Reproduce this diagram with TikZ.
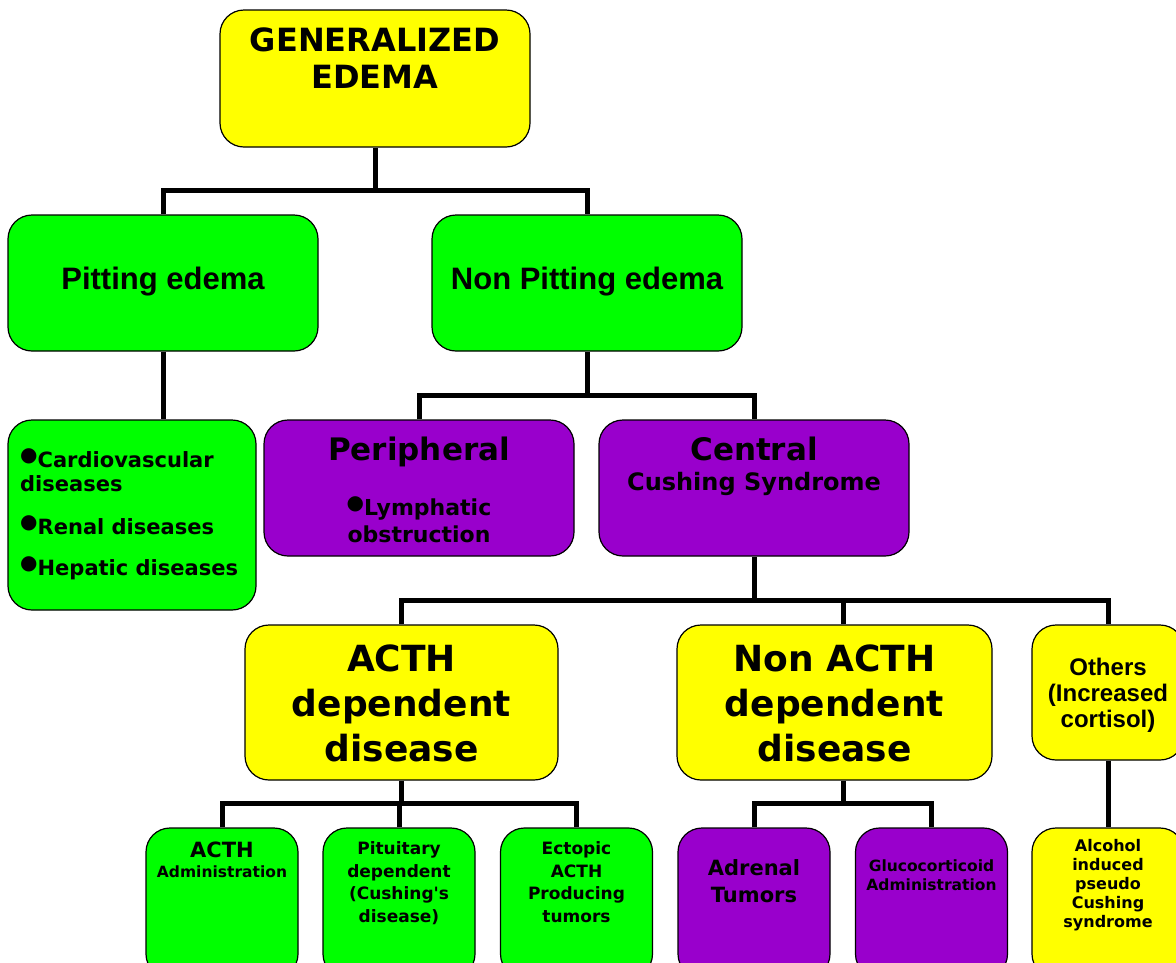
\documentclass[tikz,border=0pt]{standalone}
\usepackage{fontspec}
\setmainfont{DejaVu Sans}
\newfontfamily\arialf{Liberation Sans}
\usetikzlibrary{positioning}
\definecolor{yelbox}{RGB}{255,255,0}
\definecolor{grnbox}{RGB}{0,255,0}
\definecolor{purbox}{RGB}{153,0,204}
\newcommand{\fs}[2]{\fontsize{#1}{#2}\selectfont}
\newcommand{\bul}{\raisebox{6pt}{\fs{20}{20}●}}

\begin{document}
\begin{tikzpicture}[x=1pt,y=-1pt,
  box/.style={draw=black,line width=1.2pt,rounded corners=24pt,fill=#1,inner sep=0pt},
  conn/.style={line width=5pt},
  txt/.style 2 args={anchor=north,inner sep=0pt,align=center,font=\bfseries\fs{#1}{#2}},
  atxt/.style 2 args={anchor=north,inner sep=0pt,align=center,font=\arialf\bfseries\fs{#1}{#2}}]
\useasboundingbox (0,0) rectangle (1176,962);

\node[box=yelbox,minimum width=310pt,minimum height=137pt] (root) at (375,78.5) {};
\node[box=grnbox,minimum width=310pt,minimum height=136pt] (pit) at (163,283) {};
\node[box=grnbox,minimum width=310pt,minimum height=136pt] (np) at (587,283) {};
\node[box=grnbox,minimum width=248pt,minimum height=190pt] (card) at (132,515) {};
\node[box=purbox,minimum width=310pt,minimum height=136pt] (peri) at (419,488) {};
\node[box=purbox,minimum width=310pt,minimum height=136pt] (cent) at (754,488) {};
\node[box=yelbox,minimum width=313pt,minimum height=155pt] (acth) at (401.5,702.5) {};
\node[box=yelbox,minimum width=315pt,minimum height=155pt] (nacth) at (834.5,702.5) {};
\node[box=yelbox,minimum width=152pt,minimum height=135pt] (oth) at (1108,692.5) {};
\node[box=grnbox,minimum width=152pt,minimum height=150pt] (adm) at (222,903) {};
\node[box=grnbox,minimum width=152pt,minimum height=150pt] (pitu) at (399,903) {};
\node[box=grnbox,minimum width=152pt,minimum height=150pt] (ecto) at (576.5,903) {};
\node[box=purbox,minimum width=152pt,minimum height=150pt] (adre) at (754,903) {};
\node[box=purbox,minimum width=152pt,minimum height=150pt] (gluc) at (931.5,903) {};
\node[box=yelbox,minimum width=152pt,minimum height=150pt] (alco) at (1108,903) {};

\node[txt={32}{37},below=18pt of root.north] (rootT) {GENERALIZED\\EDEMA};
\node[atxt={31}{35},below=52pt of pit.north] (pitT) {Pitting edema};
\node[atxt={31}{35},below=52pt of np.north] (npT) {Non Pitting edema};
\node[txt={21}{24},align=left,anchor=north west] (cardT) at (20,448)
  {\bul Cardiovascular\\diseases\\[19pt]\bul Renal diseases\\[17pt]\bul Hepatic diseases};
\node[txt={31}{27},below=17pt of peri.north] (periT)
  {Peripheral\\[28pt]{\fs{22}{27}\bul Lymphatic}\\{\fs{22}{27}obstruction}};
\node[txt={31}{30},below=17pt of cent.north] (centT) {Central\\{\fs{24}{28}Cushing Syndrome}};
\node[txt={36}{45},below=20pt of acth.north] (acthT) {ACTH\\dependent\\disease};
\node[txt={36}{45},below=20pt of nacth.north] (nacthT) {Non ACTH\\dependent\\disease};
\node[atxt={24}{26},below=33pt of oth.north] (othT) {Others\\(Increased\\cortisol)};
\node[txt={21}{20},below=14pt of adm.north] (admT) {ACTH\\{\fs{15.5}{18}Administration}};
\node[txt={17}{22.5},below=14pt of pitu.north] (pituT) {Pituitary\\dependent\\(Cushing\textquotesingle s\\disease)};
\node[txt={17}{22.5},below=14pt of ecto.north] (ectoT) {Ectopic\\ACTH\\Producing\\tumors};
\node[txt={21}{27},below=32pt of adre.north] (adreT) {Adrenal\\Tumors};
\node[txt={15.5}{19},below=32pt of gluc.north] (glucT) {Glucocorticoid\\Administration};
\node[txt={16}{19},below=12pt of alco.north] (alcoT) {Alcohol\\induced\\pseudo\\Cushing\\syndrome};

\draw[conn] (root.south) -- ++(0,43) coordinate (b1);
\draw[conn] (pit.north) |- (b1) -| (np.north);
\draw[conn] (pit.south) -- (pit.south |- card.north);
\draw[conn] (np.south) -- ++(0,44) coordinate (b2);
\draw[conn] (peri.north) |- (b2) -| (cent.north);
\draw[conn] (cent.south) -- ++(0,44) coordinate (b3);
\draw[conn] (acth.north) |- (b3) -| (oth.north);
\draw[conn] ([xshift=8.5pt]nacth.north) -- ([xshift=8.5pt]nacth.north |- b3);
\draw[conn] (acth.south) -- ++(0,23) coordinate (b4);
\draw[conn] (adm.north) |- (b4) -| (ecto.north);
\draw[conn] (pitu.north) -- (pitu.north |- b4);
\draw[conn] ([xshift=8.5pt]nacth.south) -- ++(0,23) coordinate (b5);
\draw[conn] (adre.north) |- (b5) -| (gluc.north);
\draw[conn] (oth.south) -- (alco.north);
\end{tikzpicture}
\end{document}
